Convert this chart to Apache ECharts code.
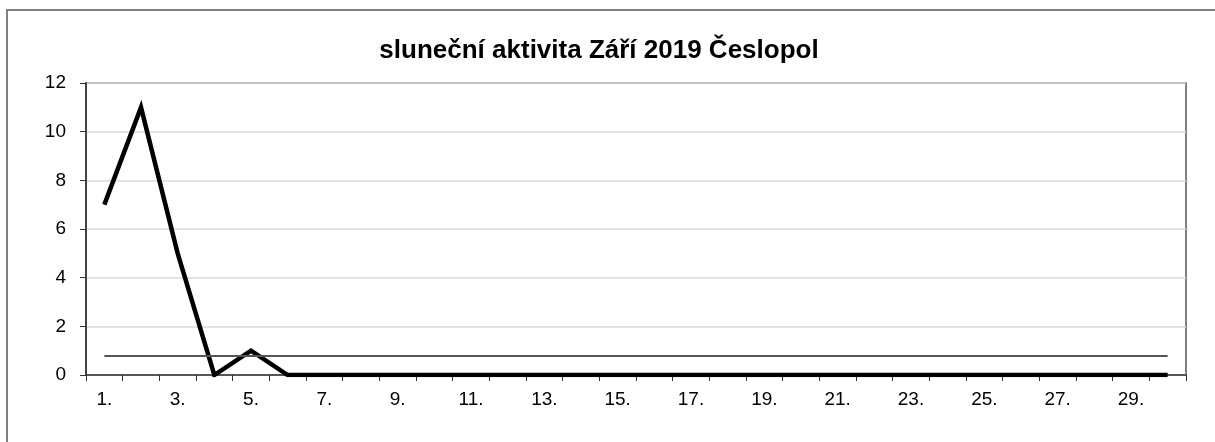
<!DOCTYPE html>
<html>
<head>
<meta charset="utf-8">
<script src="https://cdn.jsdelivr.net/npm/echarts@6/dist/echarts.min.js"></script>
<style>
  html, body { margin: 0; padding: 0; background: #fff; overflow: hidden; }
  #chart { width: 1215px; height: 442px; }
  #frame { position: absolute; left: 6px; top: 9px; width: 1300px; height: 500px;
           border-left: 2px solid #808080; border-top: 2px solid #808080; pointer-events: none; }
</style>
</head>
<body>
<div id="chart"></div>
<div id="frame"></div>
<script>
// dny v září
const dny = [];
for (let d = 1; d <= 30; d++) dny.push(d + '.');

// sluneční aktivita (hodnoty z grafu)
const aktivita = [7, 11, 5, 0, 1, 0, 0, 0, 0, 0, 0, 0, 0, 0, 0, 0, 0, 0, 0, 0, 0, 0, 0, 0, 0, 0, 0, 0, 0, 0];

// průměrná hodnota za měsíc
const prumer = 0.8;

// osa y
const yMin = 0, yMax = 12, yKrok = 2;

const chart = echarts.init(document.getElementById('chart'), null, { renderer: 'canvas' });

const option = {
  animation: false,
  title: {
    text: 'sluneční aktivita Září 2019 Česlopol',
    left: 594,
    top: 33,
    textAlign: 'center',
    textStyle: { fontFamily: 'Arial', fontSize: 26, fontWeight: 'bold', color: '#000' }
  },
  grid: { left: 86, right: 29, top: 83, bottom: 67, show: true, borderColor: '#808080', borderWidth: 2, backgroundColor: 'transparent' },
  xAxis: {
    type: 'category',
    data: dny,
    boundaryGap: true,
    axisLine: { lineStyle: { color: '#333', width: 1.5 } },
    axisTick: { show: true, inside: false, length: 6, alignWithLabel: false, interval: 0, lineStyle: { color: '#333' } },
    axisLabel: { interval: 1, margin: 15, fontFamily: 'Arial', fontSize: 19, color: '#000' },
    splitLine: { show: false }
  },
  yAxis: {
    type: 'value',
    min: yMin,
    max: yMax,
    interval: yKrok,
    axisLine: { show: true, lineStyle: { color: '#444', width: 2 } },
    axisTick: { show: true, length: 6, lineStyle: { color: '#333' } },
    axisLabel: { margin: 20, fontFamily: 'Arial', fontSize: 19, color: '#000' },
    splitLine: { lineStyle: { color: '#d9d9d9', width: 1.5 } }
  },
  series: [{
    type: 'line',
    data: aktivita,
    symbol: 'none',
    lineStyle: { color: '#000', width: 4.5, join: 'miter' },
    z: 3,
    markLine: {
      silent: true,
      symbol: 'none',
      label: { show: false },
      lineStyle: { color: '#555', width: 2, type: 'solid' },
      data: [[{ coord: [0, prumer] }, { coord: [dny.length - 1, prumer] }]]
    }
  }]
};

chart.setOption(option);
</script>
</body>
</html>
